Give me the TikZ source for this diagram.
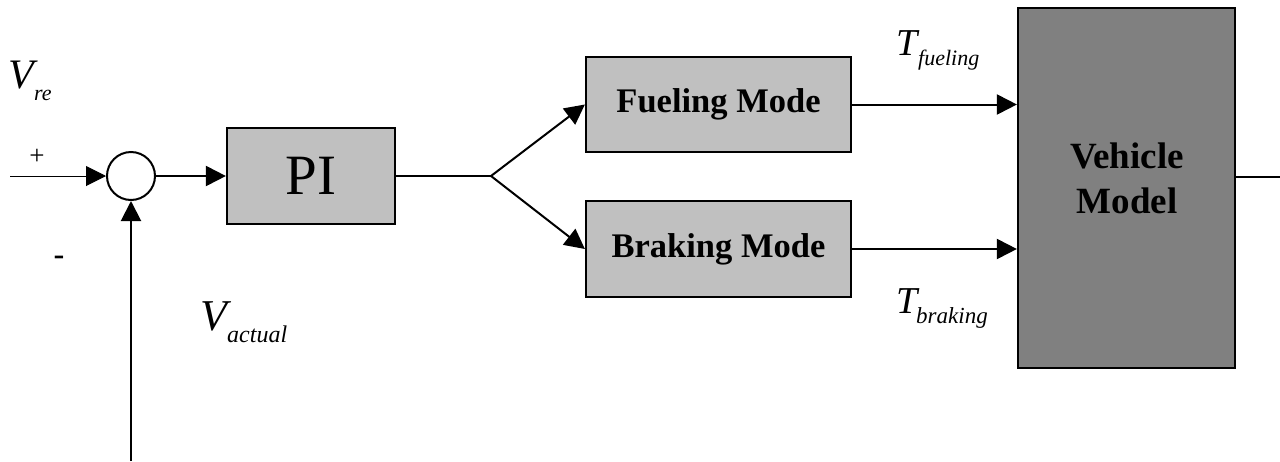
\documentclass[tikz,border=0pt]{standalone}
\usepackage{fontspec}
\setmainfont{Liberation Serif}
\newfontfamily\sansf{Liberation Sans}
\usetikzlibrary{arrows.meta}
\definecolor{lightbox}{HTML}{C0C0C0}
\definecolor{darkbox}{HTML}{808080}
\begin{document}
\begin{tikzpicture}[x=1pt,y=-1pt,
  blk/.style={draw, line width=2.2pt, fill=lightbox, inner sep=0pt},
  conn/.style={line width=2pt, -{Triangle[length=20pt,width=20pt]}},
  wire/.style={line width=2pt},
  lbl/.style={anchor=base west, inner sep=0pt},
  bigit/.style={font=\itshape\fontsize{#1}{#1}\selectfont}]
\useasboundingbox (0,0) rectangle (1280,461);

% blocks
\node[draw, circle, line width=2pt, minimum size=48pt, inner sep=0pt, fill=white] (sum) at (131,176) {};
\node[blk, minimum width=168pt, minimum height=96pt, font=\fontsize{57}{60}\selectfont] (pi) at (311,176) {PI};
\node[blk, minimum width=265pt, minimum height=95pt, font=\bfseries\fontsize{34.5}{40}\selectfont] (fuel) at (718.5,104.5) {Fueling Mode};
\node[blk, minimum width=265pt, minimum height=96pt, font=\bfseries\fontsize{34.5}{40}\selectfont] (brake) at (718.5,249) {Braking Mode};
\node[blk, fill=darkbox, minimum width=217pt, minimum height=360pt] (veh) at (1126.5,188) {};
\node[font=\bfseries\fontsize{37}{45}\selectfont, align=center, inner sep=0pt] (vehtext) at (1127,178) {Vehicle\\Model};

% coordinates
\coordinate (in) at (10,176);
\coordinate (br) at (491,176);
\coordinate (fb) at (131,461);
\coordinate (out) at (1280,177);

% connectors
\draw[conn, line width=1pt] (in) -- (sum.west);
\draw[conn] (sum.east) -- (pi.west);
\draw[wire] (pi.east) -- (br);
\draw[conn] (br) -- (fuel.west);
\draw[conn] (br) -- (brake.west);
\draw[conn] (fuel.east) -- (fuel.east -| veh.west);
\draw[conn] (brake.east) -- (brake.east -| veh.west);
\draw[wire] (veh.east |- out) -- (out);
\draw[conn] (fb) -- (sum.south);

% labels
\node[lbl, bigit=42] (vre) at (8,88) {V};
\node[lbl, bigit=22] (vresub) at (34,100) {re};
\node[lbl, bigit=44] (vact) at (200,330) {V};
\node[lbl, bigit=24] (vactsub) at (227,342) {actual};
\node[lbl, bigit=38] (tf) at (896,55) {T};
\node[lbl, bigit=22] (tfsub) at (918,65) {fueling};
\node[lbl, bigit=38] (tb) at (896,313) {T};
\node[lbl, bigit=23] (tbsub) at (916,323) {braking};
\node[anchor=base, inner sep=0pt, font=\fontsize{27}{27}\selectfont] (plus) at (37,164) {+};
\node[anchor=base, inner sep=0pt, font=\sansf\fontsize{34}{34}\selectfont] (minus) at (59,266) {-};
\end{tikzpicture}
\end{document}
